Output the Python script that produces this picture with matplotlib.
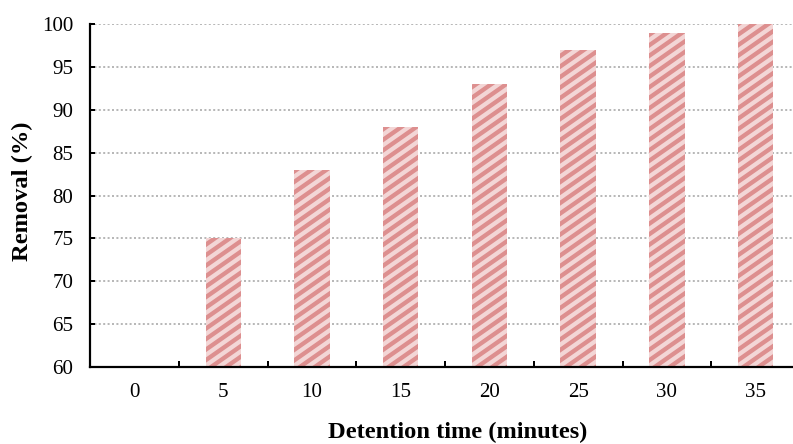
import numpy as np
import matplotlib
matplotlib.use('Agg')
import matplotlib.pyplot as plt
from matplotlib.ticker import FixedLocator
from matplotlib.collections import LineCollection
from matplotlib.transforms import IdentityTransform

# data
times = [0, 5, 10, 15, 20, 25, 30, 35]
removal = [0, 75, 83, 88, 93, 97, 99, 100]
y_ticks = [60, 65, 70, 75, 80, 85, 90, 95, 100]

DPI = 100
px = 72.0 / DPI  # one pixel in points

plt.rcParams['font.family'] = ['Liberation Serif', 'DejaVu Serif']

fig = plt.figure(figsize=(7.93, 4.44), dpi=DPI)
# axes runs a little past the right edge, as in the reference
left, right = 90.2, 800.0
bottom, top = 367.0, 24.0
ax = fig.add_axes([left / 793, 1 - bottom / 444,
                   (right - left) / 793, (bottom - top) / 444])

ind = list(range(len(times)))
bars = ax.bar(ind, removal, 0.4, color='#f3d6d6', linewidth=0, zorder=3)

ax.set_xlim(-0.5, len(times) - 0.5)
ax.set_ylim(60, 100)

# shallow diagonal stripes like the reference fill pattern,
# laid over each bar in pixel space and clipped to the bar
slope, step = 0.7, 10.5
for b in bars:
    (x0, y0), (x1, y1) = ax.transData.transform(
        [(b.get_x(), max(b.get_y(), 60)), (b.get_x() + b.get_width(), b.get_height())])
    if y1 <= y0:
        continue
    w = x1 - x0
    segs = [[(x0 - 2, c - 2 * slope), (x1 + 2, c + slope * (w + 2))]
            for c in np.arange(y0 - slope * w - step, y1 + step, step)]
    lc = LineCollection(segs, colors='#dd8f8f', linewidths=4.3 * px,
                        transform=IdentityTransform(), zorder=3.5)
    ax.add_collection(lc, autolim=False)   # clip box = axes
    lc.set_clip_path(b.get_path(), b.get_transform())  # clip path = bar

ax.set_yticks(y_ticks)
ax.set_xticks(ind)
ax.set_xticklabels([str(t) for t in times])
ax.xaxis.set_minor_locator(FixedLocator([i + 0.5 for i in ind[:-1]]))

ax.grid(axis='y', color='#b8b8b8', linestyle=(0, (1, 1.2)),
        linewidth=2 * px, zorder=0)
for s in ['top', 'right']:
    ax.spines[s].set_visible(False)
for s in ['left', 'bottom']:
    ax.spines[s].set_linewidth(2.2 * px)
    ax.spines[s].set_zorder(4)

fs = 21 * px
ax.tick_params(axis='x', which='major', length=0, pad=16 * px, labelsize=fs)
ax.tick_params(axis='x', which='minor', direction='in', length=6 * px,
               width=2 * px)
ax.tick_params(axis='y', which='major', direction='in', length=5 * px,
               width=2 * px, pad=17 * px, labelsize=fs)

lfs = 24.5 * px
ax.set_xlabel('Detention time (minutes)', fontsize=lfs, fontweight='bold')
ax.xaxis.set_label_coords((458 - left) / (right - left), -(432 - bottom) / (bottom - top))
ax.xaxis.label.set_va('center')
ax.set_ylabel('Removal (%)', fontsize=lfs, fontweight='bold')
ax.yaxis.set_label_coords(-(left - 22) / (right - left), 0.513)
ax.yaxis.label.set_va('center')

plt.savefig('out.png', dpi=DPI)
